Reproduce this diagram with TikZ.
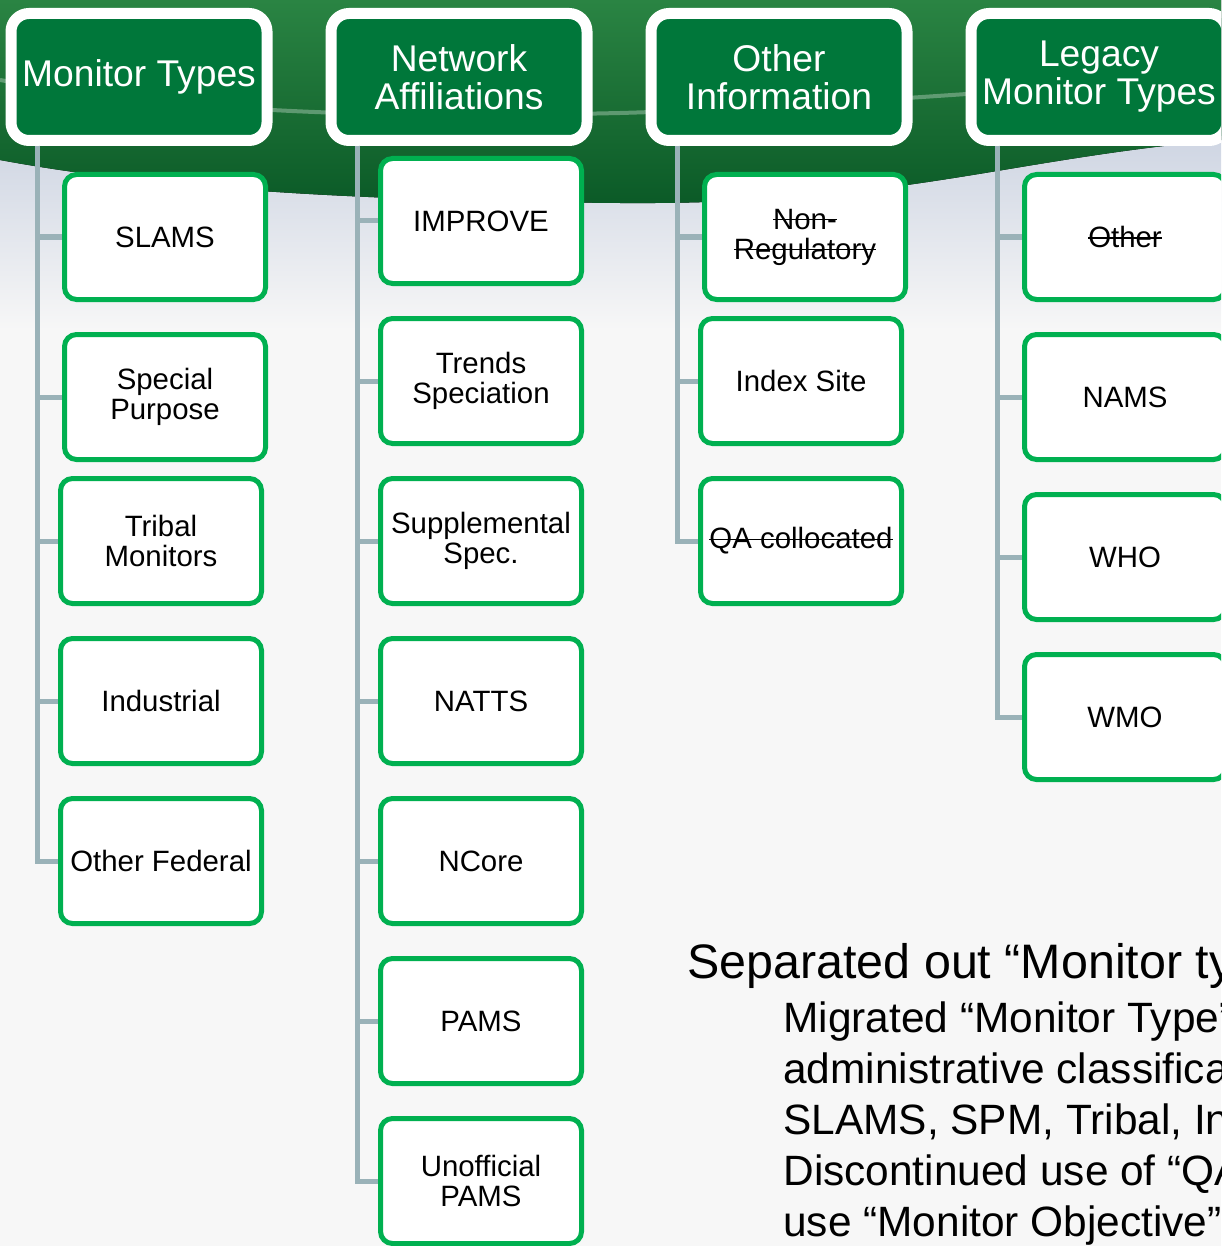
\documentclass[tikz,border=0pt]{standalone}
\usepackage{fontspec}
\setmainfont{Liberation Sans}
\usepackage{tikz}
\usetikzlibrary{positioning}
\usetikzlibrary{calc}

\newsavebox\strkbox
\newcommand\strk[1]{\sbox\strkbox{#1}\rlap{\rule[0.3em]{\wd\strkbox}{0.7pt}}\usebox\strkbox}

\definecolor{hdrgreen}{HTML}{00773A}
\definecolor{cellgreen}{HTML}{00B050}
\definecolor{linkgray}{HTML}{9AB2B8}
\definecolor{bggray}{HTML}{F7F7F7}
\definecolor{swtop}{HTML}{2A8443}
\definecolor{swbot}{HTML}{0B5A27}
\definecolor{glow}{HTML}{CDD4E2}

\begin{document}
\begin{tikzpicture}
  [ x=0.5pt, y=-0.5pt,
    hdr/.style={draw=white, line width=5.5pt, fill=hdrgreen,
      rounded corners=9pt, minimum width=128pt, minimum height=63.5pt,
      text=white, align=center, inner sep=0pt,
      font=\fontsize{18.6}{19}\selectfont},
    cell/.style={draw=cellgreen, line width=2.5pt, fill=white,
      rounded corners=6pt, minimum width=100.5pt, minimum height=62.5pt,
      align=center, inner sep=0pt, font=\fontsize{14.7}{15}\selectfont},
    ln/.style={draw=linkgray, line width=2.5pt},
    txt/.style={anchor=base west, inner sep=0pt}
  ]
  \useasboundingbox (0,0) rectangle (1221,1246);
  \clip (0,0) rectangle (1221,1246);

  % background and swoosh
  \fill[top color=glow, bottom color=bggray]
    (0,130) rectangle (1221,330);
  \fill[bggray] (0,329) rectangle (1221,1246);
  \fill[top color=swtop, bottom color=swbot]
    (0,0) -- (1221,0) -- (1221,140)
    .. controls (1000,160) and (900,205) .. (620,203)
    .. controls (350,201) and (150,188) .. (0,160) -- cycle;
  \draw[white, opacity=0.3, line width=2pt]
    (0,80) .. controls (200,115) and (400,118) .. (620,113)
    .. controls (800,108) and (1000,90) .. (1221,78);

  % headers
  \node (mt) at ( 139,77) [hdr] {Monitor Types};
  \node (na) at ( 459,77) [hdr] {Network\\Affiliations};
  \node (oi) at ( 779,77) [hdr] {Other\\Information};
  \node (lm) at (1099,77) [hdr] {Legacy\\Monitor Types};

  % monitor types
  \node (m1) at (165,237) [cell] {SLAMS};
  \node (m2) at (165,397) [cell] {Special\\Purpose};
  \node (m3) at (161,541) [cell] {Tribal\\Monitors};
  \node (m4) at (161,701) [cell] {Industrial};
  \node (m5) at (161,861) [cell] {Other Federal};

  % network affiliations
  \node (n1) at (481, 221) [cell] {IMPROVE};
  \node (n2) at (481, 381) [cell] {Trends\\Speciation};
  \node (n3) at (481, 541) [cell] {Supplemental\\Spec.};
  \node (n4) at (481, 701) [cell] {NATTS};
  \node (n5) at (481, 861) [cell] {NCore};
  \node (n6) at (481,1021) [cell] {PAMS};
  \node (n7) at (481,1181) [cell] {Unofficial\\PAMS};

  % other information
  \node (o1) at (805,237) [cell] {\strk{Non-}\\\strk{Regulatory}};
  \node (o2) at (801,381) [cell] {Index Site};
  \node (o3) at (801,541) [cell] {\strk{QA collocated}};

  % legacy monitor types
  \node (l1) at (1125,237) [cell] {\strk{Other}};
  \node (l2) at (1125,397) [cell] {NAMS};
  \node (l3) at (1125,557) [cell] {WHO};
  \node (l4) at (1125,717) [cell] {WMO};

  % connectors
  \foreach \c in {m1,m2,m3,m4,m5}
    \draw[ln] ($(mt.south west)+(31.5,0)$) |- (\c.west);
  \foreach \c in {n1,n2,n3,n4,n5,n6,n7}
    \draw[ln] ($(na.south west)+(31.5,0)$) |- (\c.west);
  \foreach \c in {o1,o2,o3}
    \draw[ln] ($(oi.south west)+(31.5,0)$) |- (\c.west);
  \foreach \c in {l1,l2,l3,l4}
    \draw[ln] ($(lm.south west)+(31.5,0)$) |- (\c.west);

  % notes
  \node (t0) at (687, 978) [txt, font=\fontsize{24.2}{26}\selectfont]
    {Separated out “Monitor ty};
  \node (t1) at (783,1032) [txt, font=\fontsize{21.2}{24}\selectfont]
    {Migrated “Monitor Type”};
  \node (t2) at (783,1083) [txt, font=\fontsize{21.2}{24}\selectfont]
    {administrative classifica};
  \node (t3) at (783,1134) [txt, font=\fontsize{21.2}{24}\selectfont]
    {SLAMS, SPM, Tribal, In};
  \node (t4) at (783,1185) [txt, font=\fontsize{21.2}{24}\selectfont]
    {Discontinued use of “QA};
  \node (t5) at (783,1236) [txt, font=\fontsize{21.2}{24}\selectfont]
    {use “Monitor Objective”};
\end{tikzpicture}
\end{document}
